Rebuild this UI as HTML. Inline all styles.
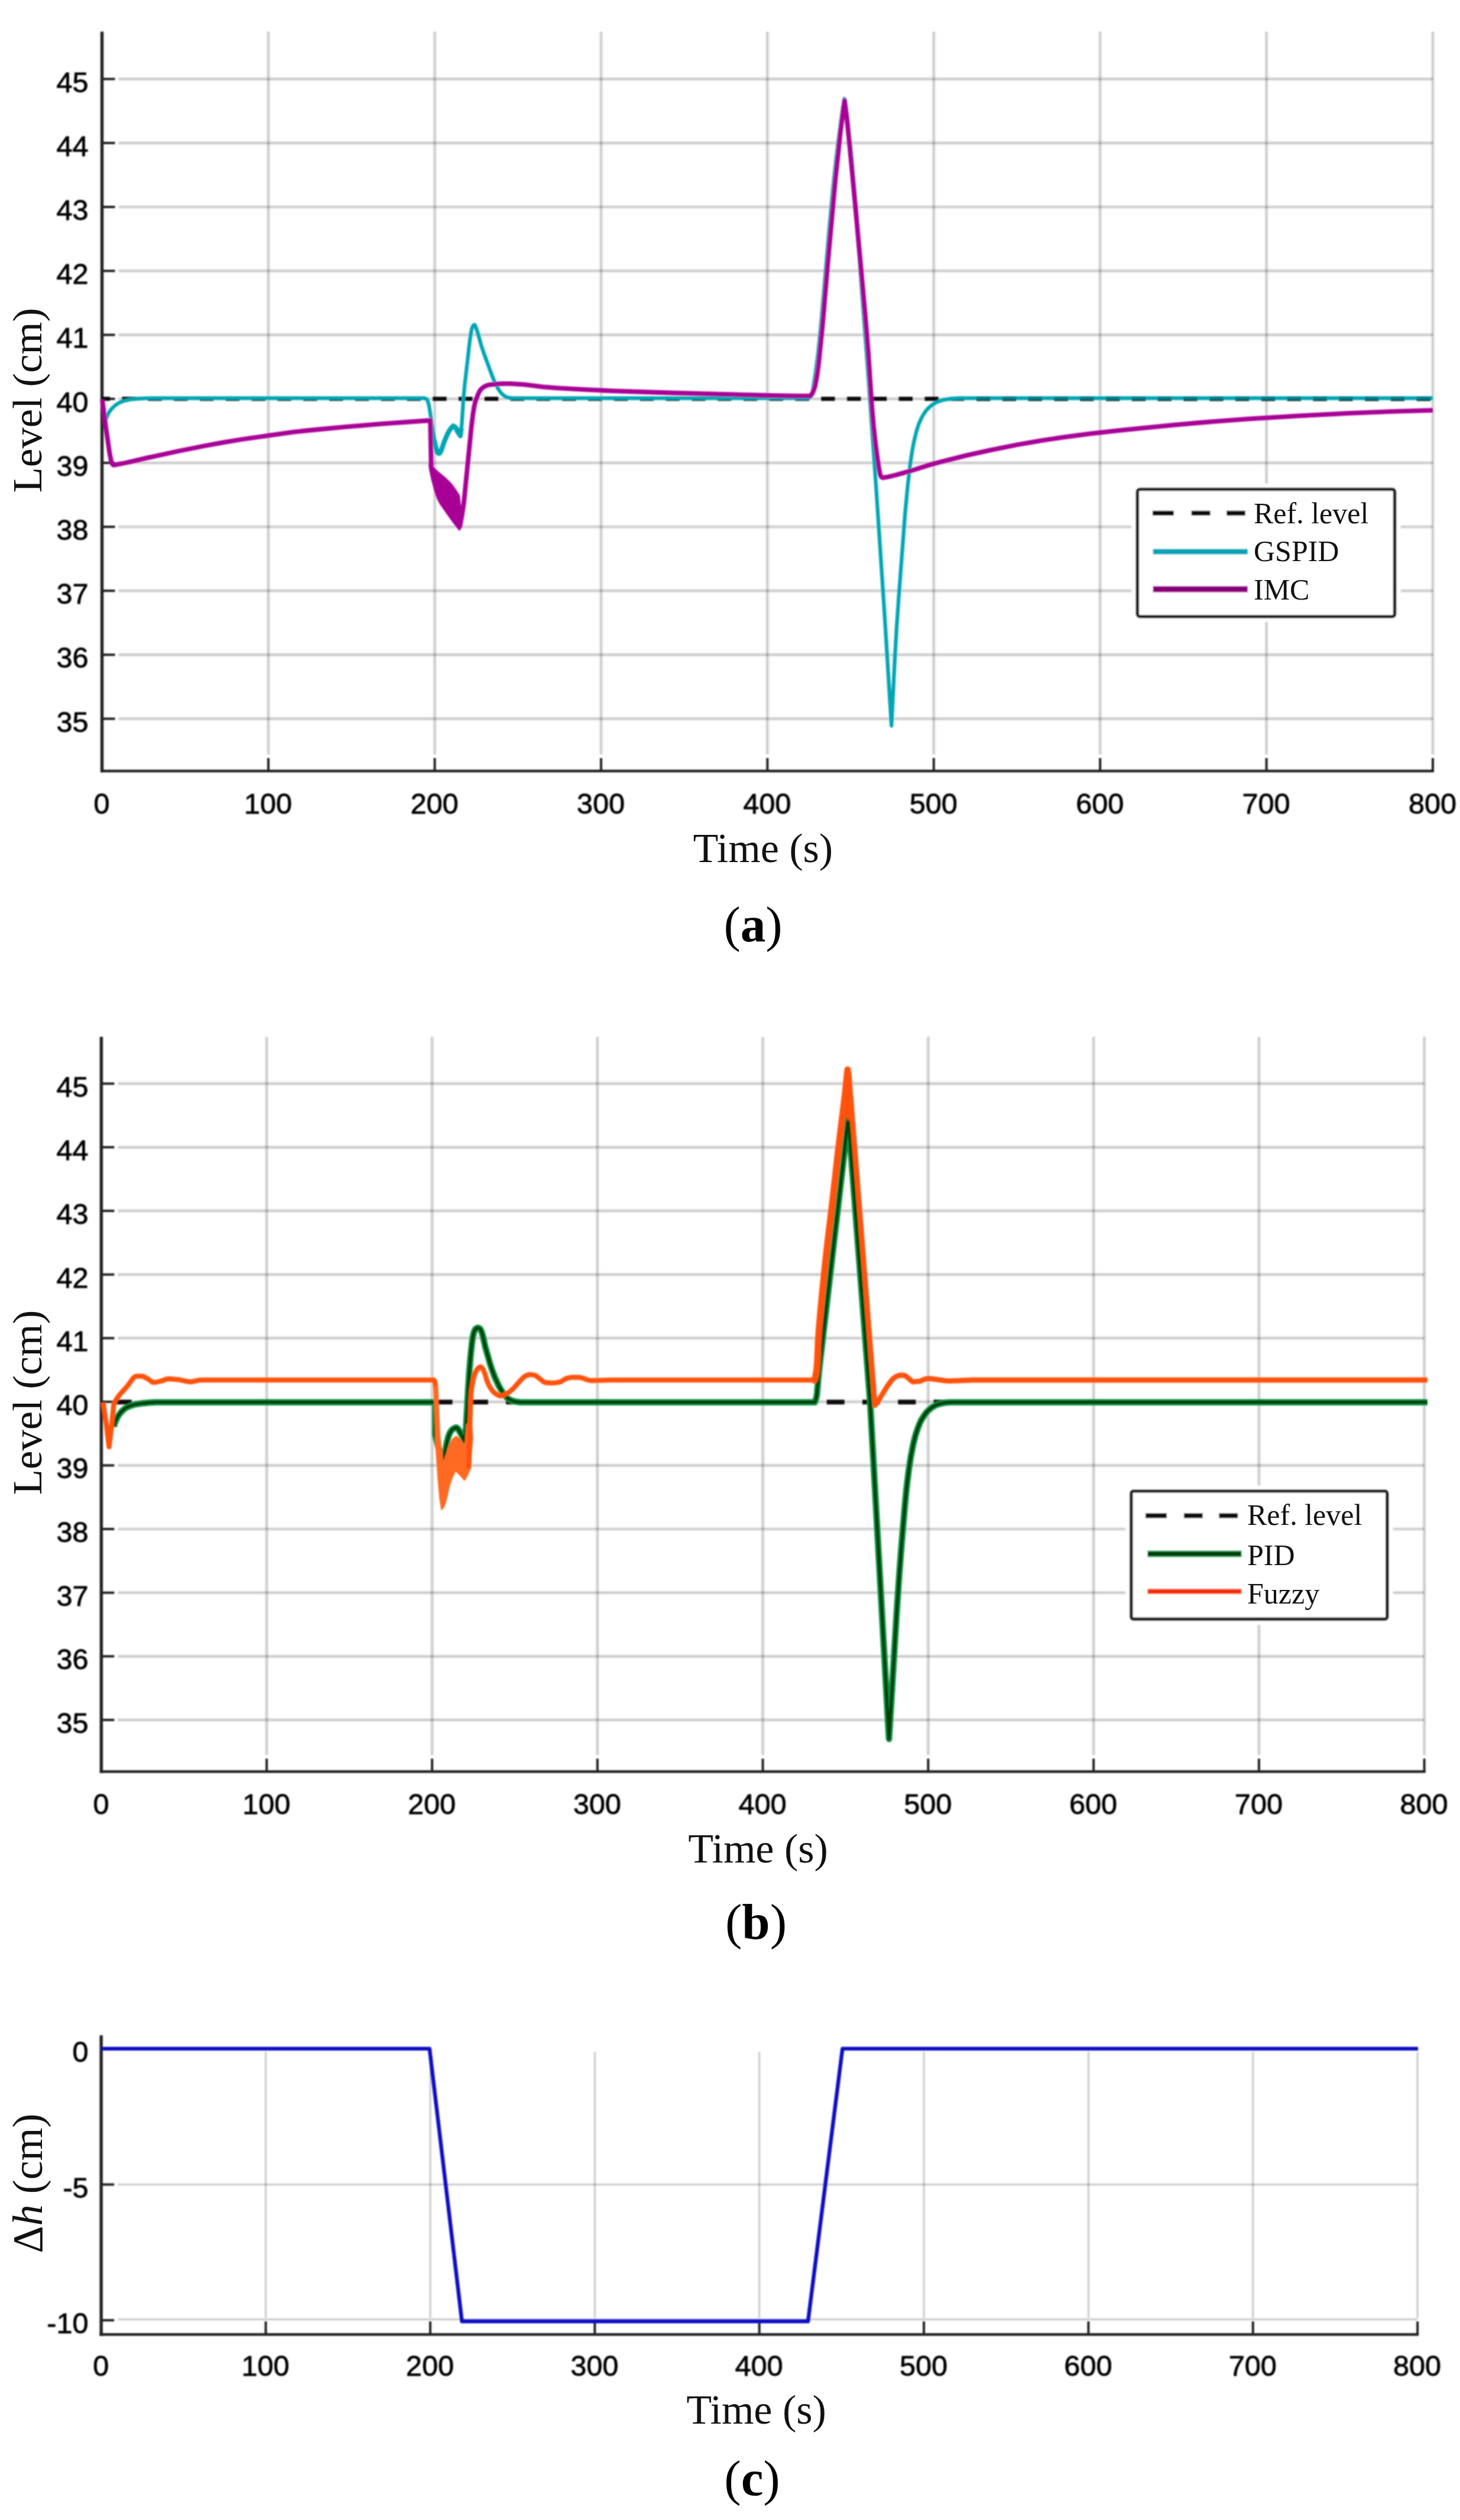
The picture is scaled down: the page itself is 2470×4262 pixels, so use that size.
<!DOCTYPE html>
<html lang="en"><head><meta charset="utf-8"><title>Level control responses</title>
<style>html,body{margin:0;padding:0;background:#fff}body{width:2470px;height:4262px;overflow:hidden}svg{display:block}</style>
</head><body>
<svg width="2470" height="4262" viewBox="0 0 2470 4262">
<rect width="2470" height="4262" fill="#fff"/>
<defs><filter id="b" x="-2%" y="-2%" width="104%" height="104%"><feGaussianBlur stdDeviation="0.9"/></filter></defs>
<g filter="url(#b)">
<g stroke="rgba(0,0,0,0.178)" stroke-width="3.2" fill="none">
<line x1="454.0" y1="53.4" x2="454.0" y2="1276.0"/>
<line x1="735.5" y1="53.4" x2="735.5" y2="1276.0"/>
<line x1="1016.9" y1="53.4" x2="1016.9" y2="1276.0"/>
<line x1="1298.3" y1="53.4" x2="1298.3" y2="1276.0"/>
<line x1="1579.7" y1="53.4" x2="1579.7" y2="1276.0"/>
<line x1="1861.2" y1="53.4" x2="1861.2" y2="1276.0"/>
<line x1="2142.6" y1="53.4" x2="2142.6" y2="1276.0"/>
<line x1="2424.0" y1="53.4" x2="2424.0" y2="1276.0"/>
<line x1="200.6" y1="1215.6" x2="2424.0" y2="1215.6"/>
<line x1="200.6" y1="1107.4" x2="2424.0" y2="1107.4"/>
<line x1="200.6" y1="999.2" x2="2424.0" y2="999.2"/>
<line x1="200.6" y1="891.0" x2="2424.0" y2="891.0"/>
<line x1="200.6" y1="782.8" x2="2424.0" y2="782.8"/>
<line x1="200.6" y1="674.6" x2="2424.0" y2="674.6"/>
<line x1="200.6" y1="566.4" x2="2424.0" y2="566.4"/>
<line x1="200.6" y1="458.2" x2="2424.0" y2="458.2"/>
<line x1="200.6" y1="350.0" x2="2424.0" y2="350.0"/>
<line x1="200.6" y1="241.8" x2="2424.0" y2="241.8"/>
<line x1="200.6" y1="133.6" x2="2424.0" y2="133.6"/>
</g>
<g stroke="rgba(0,0,0,0.05)" stroke-width="7.68" fill="none">
<line x1="454.0" y1="53.4" x2="454.0" y2="1276.0"/>
<line x1="735.5" y1="53.4" x2="735.5" y2="1276.0"/>
<line x1="1016.9" y1="53.4" x2="1016.9" y2="1276.0"/>
<line x1="1298.3" y1="53.4" x2="1298.3" y2="1276.0"/>
<line x1="1579.7" y1="53.4" x2="1579.7" y2="1276.0"/>
<line x1="1861.2" y1="53.4" x2="1861.2" y2="1276.0"/>
<line x1="2142.6" y1="53.4" x2="2142.6" y2="1276.0"/>
<line x1="2424.0" y1="53.4" x2="2424.0" y2="1276.0"/>
<line x1="200.6" y1="1215.6" x2="2424.0" y2="1215.6"/>
<line x1="200.6" y1="1107.4" x2="2424.0" y2="1107.4"/>
<line x1="200.6" y1="999.2" x2="2424.0" y2="999.2"/>
<line x1="200.6" y1="891.0" x2="2424.0" y2="891.0"/>
<line x1="200.6" y1="782.8" x2="2424.0" y2="782.8"/>
<line x1="200.6" y1="674.6" x2="2424.0" y2="674.6"/>
<line x1="200.6" y1="566.4" x2="2424.0" y2="566.4"/>
<line x1="200.6" y1="458.2" x2="2424.0" y2="458.2"/>
<line x1="200.6" y1="350.0" x2="2424.0" y2="350.0"/>
<line x1="200.6" y1="241.8" x2="2424.0" y2="241.8"/>
<line x1="200.6" y1="133.6" x2="2424.0" y2="133.6"/>
</g>
<g stroke="#222" fill="none" stroke-linecap="butt">
<path d="M172.6 53.4 V1306.2" stroke-width="5.4"/>
<path d="M169.9 1304.0 H2426.0" stroke-width="4.4"/>
<line x1="172.6" y1="1215.6" x2="194.6" y2="1215.6" stroke-width="4"/>
<line x1="172.6" y1="1107.4" x2="194.6" y2="1107.4" stroke-width="4"/>
<line x1="172.6" y1="999.2" x2="194.6" y2="999.2" stroke-width="4"/>
<line x1="172.6" y1="891.0" x2="194.6" y2="891.0" stroke-width="4"/>
<line x1="172.6" y1="782.8" x2="194.6" y2="782.8" stroke-width="4"/>
<line x1="172.6" y1="674.6" x2="194.6" y2="674.6" stroke-width="4"/>
<line x1="172.6" y1="566.4" x2="194.6" y2="566.4" stroke-width="4"/>
<line x1="172.6" y1="458.2" x2="194.6" y2="458.2" stroke-width="4"/>
<line x1="172.6" y1="350.0" x2="194.6" y2="350.0" stroke-width="4"/>
<line x1="172.6" y1="241.8" x2="194.6" y2="241.8" stroke-width="4"/>
<line x1="172.6" y1="133.6" x2="194.6" y2="133.6" stroke-width="4"/>
<line x1="454.0" y1="1305.0" x2="454.0" y2="1282.0" stroke-width="4"/>
<line x1="735.5" y1="1305.0" x2="735.5" y2="1282.0" stroke-width="4"/>
<line x1="1016.9" y1="1305.0" x2="1016.9" y2="1282.0" stroke-width="4"/>
<line x1="1298.3" y1="1305.0" x2="1298.3" y2="1282.0" stroke-width="4"/>
<line x1="1579.7" y1="1305.0" x2="1579.7" y2="1282.0" stroke-width="4"/>
<line x1="1861.2" y1="1305.0" x2="1861.2" y2="1282.0" stroke-width="4"/>
<line x1="2142.6" y1="1305.0" x2="2142.6" y2="1282.0" stroke-width="4"/>
<line x1="2424.0" y1="1305.0" x2="2424.0" y2="1282.0" stroke-width="4"/>
</g>
<g font-family="Liberation Sans, Arial, sans-serif" font-size="48.6" fill="#000" stroke="#000" stroke-width="0.8">
<text x="149.6" y="1237.6" text-anchor="end">35</text>
<text x="149.6" y="1129.4" text-anchor="end">36</text>
<text x="149.6" y="1021.2" text-anchor="end">37</text>
<text x="149.6" y="913.0" text-anchor="end">38</text>
<text x="149.6" y="804.8" text-anchor="end">39</text>
<text x="149.6" y="696.6" text-anchor="end">40</text>
<text x="149.6" y="588.4" text-anchor="end">41</text>
<text x="149.6" y="480.2" text-anchor="end">42</text>
<text x="149.6" y="372.0" text-anchor="end">43</text>
<text x="149.6" y="263.8" text-anchor="end">44</text>
<text x="149.6" y="155.6" text-anchor="end">45</text>
<text x="172.1" y="1376.0" text-anchor="middle">0</text>
<text x="453.5" y="1376.0" text-anchor="middle">100</text>
<text x="735.0" y="1376.0" text-anchor="middle">200</text>
<text x="1016.4" y="1376.0" text-anchor="middle">300</text>
<text x="1297.8" y="1376.0" text-anchor="middle">400</text>
<text x="1579.2" y="1376.0" text-anchor="middle">500</text>
<text x="1860.7" y="1376.0" text-anchor="middle">600</text>
<text x="2142.1" y="1376.0" text-anchor="middle">700</text>
<text x="2423.5" y="1376.0" text-anchor="middle">800</text>
</g>
<line x1="172.6" y1="674.6" x2="2424.0" y2="674.6" stroke="#111" stroke-width="7" stroke-dasharray="23.3 20.5" stroke-dashoffset="9.8"/>
<path d="M177.6 713 L182.1 701.8 L184.9 696.5 L189.9 690.2 L195.8 684.8 L200.9 681.6 L206.4 679.1 L210.2 677.8 L220 675.7 L230 674.5 L245.9 673.6 L260 673.3 L716 673.3 L718.2 673.5 L721.6 674.9 L722.9 676.6 L724.4 680.3 L725.4 684.2 L727.4 696.1 L731.8 725.9 L736.6 753.5 L739.2 763.4 L740 765 L741.6 766.5 L743.3 766.9 L744.6 765.6 L746.5 761.7 L751.8 746.5 L757.3 733.6 L761.2 726.6 L766.4 720.5 L768.6 721.2 L770.2 722.2 L771.3 723.8 L774 730 L778.8 737 L781.3 717.1 L783.7 679 L786 653 L794.7 577.1 L796.4 565.2 L798.4 555.1 L799.8 551.6 L801.4 549.9 L802.8 549.3 L803.9 550.5 L804.8 552.6 L807.6 560.6 L814.1 583.9 L819.2 599.1 L833.8 638.8 L837.7 648 L843.5 658.7 L847 663.7 L849.6 666.6 L854.4 670.3 L856.2 671.2 L861.9 672.8 L866 673.3 L1369 673.3 L1371.7 670.2 L1372.8 668.5 L1374.9 661.1 L1379.9 629.2 L1384 597.4 L1389.3 545.6 L1403.3 381.9 L1410.5 306.1 L1414.4 270.2 L1418.8 234.4 L1424.8 190.8 L1428.5 167 L1431.1 182.8 L1432.9 196.7 L1438.4 244.5 L1443.8 300.3 L1448.2 354.2 L1456.4 470 L1469.2 639.8 L1482.7 831.6 L1496.5 1039.4 L1508.2 1227.3 L1513.8 1115.1 L1516.8 1063 L1520.4 1011 L1531 871 L1535.9 819 L1539.6 787.1 L1543.1 763.3 L1546.5 745.4 L1550.3 729.8 L1554.6 716.6 L1559.7 705.4 L1562.8 700.1 L1566.1 695.3 L1569.9 690.9 L1572.9 688 L1579.5 683 L1586.4 679.5 L1596.1 676.3 L1609.9 674.1 L1622 673.3 L2424 673.3" fill="none" stroke="#00a5b4" stroke-width="6.3" stroke-linejoin="round" stroke-linecap="butt" />
<path d="M735 745 L736.5 753 L739 763 L739.8 764.7 L741.2 766.2 L743 767 L744.4 766 L746.4 762.1 L751.7 746.7 L757.3 733.7 L760.1 728.4 L763.6 723.5 L766.4 720.5 L768.6 721.2 L770.2 722.2 L771.3 723.8 L774 730 L778.8 737 L780.5 724" fill="none" stroke="#00a5b4" stroke-width="8.2" stroke-linejoin="round" stroke-linecap="butt" />
<line x1="1640" y1="674.8" x2="2424.0" y2="674.8" stroke="#002a30" stroke-opacity="0.33" stroke-width="8" stroke-dasharray="23.3 20.5" stroke-dashoffset="31.8"/>
<path d="M173 676 L178.7 720 L185.7 767.9 L188.6 781.9 L189.3 783.6 L190.4 785.2 L192 786.6 L211.6 783 L248.7 774.4 L301.5 763 L346.6 754 L380.1 747.9 L409.7 743 L477 733.3 L496.8 730.6 L520.7 728 L582.4 722.1 L648.2 716.7 L728 711 L729.5 790" fill="none" stroke="#a80096" stroke-width="7.8" stroke-linejoin="round" stroke-linecap="butt" />
<path d="M726.5 786 L729.5 787.7 L739.6 797.7 L753.8 809.5 L759.6 815 L763.7 819.6 L768.6 826.1 L776.5 838 L781 880 L777.4 896 L763.7 878.4 L746.2 853.4 L743.1 848.2 L740.5 842.8 L736.5 831.5 L730.7 809.8 L727 792Z" fill="#a80096" stroke="#a80096" stroke-width="3" stroke-linejoin="round" stroke-linecap="butt" />
<path d="M777.4 893 L781.6 871.4 L784.6 851.6 L797.5 722.1 L799.9 702.3 L802.1 688.4 L803.8 680.6 L805.6 674.9 L808.6 667.4 L811.3 661.7 L813.5 658.5 L816.2 656 L819.6 653.8 L823.4 651.9 L827.3 650.8 L841.1 649.3 L851.2 648.9 L863.3 648.9 L887.2 650.3 L919 654.3 L940.9 656.1 L984.9 658.7 L1036.9 661.1 L1136.9 664.5 L1305 669 L1347 669.7 L1371 669.5 L1373.6 666.3 L1375.5 662.9 L1378.8 653.4 L1382.2 635.7 L1385.1 613.8 L1392 545.8 L1400.2 447.8 L1413 305.8 L1421.3 227.9 L1426 190.1 L1428.8 170.2 L1432.7 200 L1437.6 247.8 L1446.4 341.5 L1463.4 528.9 L1469 596.7 L1474.5 680.7 L1477.9 720.6 L1481.6 754.4 L1486.2 788.1 L1488.9 802.1 L1490.3 805.7 L1491.6 807 L1493.5 808 L1495.5 807.7 L1503.3 806.3 L1513.1 804 L1540.1 796.6 L1574.5 785.8 L1595.7 780 L1636.5 769.9 L1677.5 760.9 L1720.7 752.3 L1760.1 745.3 L1799.7 739.4 L1845.3 733.4 L1897 727.6 L1984.6 718.9 L2050.4 713.1 L2110.3 708.6 L2196.1 703.4 L2282 698.9 L2356 695.8 L2424 693.8" fill="none" stroke="#a80096" stroke-width="7.8" stroke-linejoin="round" stroke-linecap="butt" />
<rect x="1915.3" y="819.0" width="453.3" height="232.3" fill="#fff"/>
<rect x="1924.3" y="827.5" width="435.3" height="215.3" rx="4" fill="#fff" stroke="#1e1e1e" stroke-width="5.6"/>
<line x1="1949.8" y1="867.9" x2="1985.9" y2="867.9" stroke="#111" stroke-width="8.4"/>
<line x1="2015.6" y1="867.9" x2="2047.5" y2="867.9" stroke="#111" stroke-width="8.4"/>
<line x1="2075.1" y1="867.9" x2="2106.9" y2="867.9" stroke="#111" stroke-width="8.4"/>
<line x1="1950.6" y1="932.9" x2="2111.0" y2="932.9" stroke="#00a3b8" stroke-width="9"/>
<line x1="1950.6" y1="996.6" x2="2111.0" y2="996.6" stroke="#a00090" stroke-width="10.5"/>
<line x1="1951.6" y1="996.6" x2="2110.0" y2="996.6" stroke="#7d0072" stroke-width="5"/>
<g stroke="rgba(0,0,0,0.178)" stroke-width="3.2" fill="none">
<line x1="451.2" y1="1753.4" x2="451.2" y2="2968.3"/>
<line x1="731.0" y1="1753.4" x2="731.0" y2="2968.3"/>
<line x1="1010.7" y1="1753.4" x2="1010.7" y2="2968.3"/>
<line x1="1290.5" y1="1753.4" x2="1290.5" y2="2968.3"/>
<line x1="1570.3" y1="1753.4" x2="1570.3" y2="2968.3"/>
<line x1="1850.1" y1="1753.4" x2="1850.1" y2="2968.3"/>
<line x1="2129.9" y1="1753.4" x2="2129.9" y2="2968.3"/>
<line x1="2409.6" y1="1753.4" x2="2409.6" y2="2968.3"/>
<line x1="199.4" y1="2908.9" x2="2409.6" y2="2908.9"/>
<line x1="199.4" y1="2801.3" x2="2409.6" y2="2801.3"/>
<line x1="199.4" y1="2693.7" x2="2409.6" y2="2693.7"/>
<line x1="199.4" y1="2586.0" x2="2409.6" y2="2586.0"/>
<line x1="199.4" y1="2478.4" x2="2409.6" y2="2478.4"/>
<line x1="199.4" y1="2370.8" x2="2409.6" y2="2370.8"/>
<line x1="199.4" y1="2263.2" x2="2409.6" y2="2263.2"/>
<line x1="199.4" y1="2155.6" x2="2409.6" y2="2155.6"/>
<line x1="199.4" y1="2047.9" x2="2409.6" y2="2047.9"/>
<line x1="199.4" y1="1940.3" x2="2409.6" y2="1940.3"/>
<line x1="199.4" y1="1832.7" x2="2409.6" y2="1832.7"/>
</g>
<g stroke="rgba(0,0,0,0.05)" stroke-width="7.68" fill="none">
<line x1="451.2" y1="1753.4" x2="451.2" y2="2968.3"/>
<line x1="731.0" y1="1753.4" x2="731.0" y2="2968.3"/>
<line x1="1010.7" y1="1753.4" x2="1010.7" y2="2968.3"/>
<line x1="1290.5" y1="1753.4" x2="1290.5" y2="2968.3"/>
<line x1="1570.3" y1="1753.4" x2="1570.3" y2="2968.3"/>
<line x1="1850.1" y1="1753.4" x2="1850.1" y2="2968.3"/>
<line x1="2129.9" y1="1753.4" x2="2129.9" y2="2968.3"/>
<line x1="2409.6" y1="1753.4" x2="2409.6" y2="2968.3"/>
<line x1="199.4" y1="2908.9" x2="2409.6" y2="2908.9"/>
<line x1="199.4" y1="2801.3" x2="2409.6" y2="2801.3"/>
<line x1="199.4" y1="2693.7" x2="2409.6" y2="2693.7"/>
<line x1="199.4" y1="2586.0" x2="2409.6" y2="2586.0"/>
<line x1="199.4" y1="2478.4" x2="2409.6" y2="2478.4"/>
<line x1="199.4" y1="2370.8" x2="2409.6" y2="2370.8"/>
<line x1="199.4" y1="2263.2" x2="2409.6" y2="2263.2"/>
<line x1="199.4" y1="2155.6" x2="2409.6" y2="2155.6"/>
<line x1="199.4" y1="2047.9" x2="2409.6" y2="2047.9"/>
<line x1="199.4" y1="1940.3" x2="2409.6" y2="1940.3"/>
<line x1="199.4" y1="1832.7" x2="2409.6" y2="1832.7"/>
</g>
<g stroke="#222" fill="none" stroke-linecap="butt">
<path d="M171.4 1753.4 V2998.5" stroke-width="5.4"/>
<path d="M168.7 2996.3 H2411.6" stroke-width="4.4"/>
<line x1="171.4" y1="2908.9" x2="193.4" y2="2908.9" stroke-width="4"/>
<line x1="171.4" y1="2801.3" x2="193.4" y2="2801.3" stroke-width="4"/>
<line x1="171.4" y1="2693.7" x2="193.4" y2="2693.7" stroke-width="4"/>
<line x1="171.4" y1="2586.0" x2="193.4" y2="2586.0" stroke-width="4"/>
<line x1="171.4" y1="2478.4" x2="193.4" y2="2478.4" stroke-width="4"/>
<line x1="171.4" y1="2370.8" x2="193.4" y2="2370.8" stroke-width="4"/>
<line x1="171.4" y1="2263.2" x2="193.4" y2="2263.2" stroke-width="4"/>
<line x1="171.4" y1="2155.6" x2="193.4" y2="2155.6" stroke-width="4"/>
<line x1="171.4" y1="2047.9" x2="193.4" y2="2047.9" stroke-width="4"/>
<line x1="171.4" y1="1940.3" x2="193.4" y2="1940.3" stroke-width="4"/>
<line x1="171.4" y1="1832.7" x2="193.4" y2="1832.7" stroke-width="4"/>
<line x1="451.2" y1="2997.3" x2="451.2" y2="2974.3" stroke-width="4"/>
<line x1="731.0" y1="2997.3" x2="731.0" y2="2974.3" stroke-width="4"/>
<line x1="1010.7" y1="2997.3" x2="1010.7" y2="2974.3" stroke-width="4"/>
<line x1="1290.5" y1="2997.3" x2="1290.5" y2="2974.3" stroke-width="4"/>
<line x1="1570.3" y1="2997.3" x2="1570.3" y2="2974.3" stroke-width="4"/>
<line x1="1850.1" y1="2997.3" x2="1850.1" y2="2974.3" stroke-width="4"/>
<line x1="2129.9" y1="2997.3" x2="2129.9" y2="2974.3" stroke-width="4"/>
<line x1="2409.6" y1="2997.3" x2="2409.6" y2="2974.3" stroke-width="4"/>
</g>
<g font-family="Liberation Sans, Arial, sans-serif" font-size="48.6" fill="#000" stroke="#000" stroke-width="0.8">
<text x="149.6" y="2930.9" text-anchor="end">35</text>
<text x="149.6" y="2823.3" text-anchor="end">36</text>
<text x="149.6" y="2715.7" text-anchor="end">37</text>
<text x="149.6" y="2608.0" text-anchor="end">38</text>
<text x="149.6" y="2500.4" text-anchor="end">39</text>
<text x="149.6" y="2392.8" text-anchor="end">40</text>
<text x="149.6" y="2285.2" text-anchor="end">41</text>
<text x="149.6" y="2177.6" text-anchor="end">42</text>
<text x="149.6" y="2069.9" text-anchor="end">43</text>
<text x="149.6" y="1962.3" text-anchor="end">44</text>
<text x="149.6" y="1854.7" text-anchor="end">45</text>
<text x="170.9" y="3068.0" text-anchor="middle">0</text>
<text x="450.7" y="3068.0" text-anchor="middle">100</text>
<text x="730.5" y="3068.0" text-anchor="middle">200</text>
<text x="1010.2" y="3068.0" text-anchor="middle">300</text>
<text x="1290.0" y="3068.0" text-anchor="middle">400</text>
<text x="1569.8" y="3068.0" text-anchor="middle">500</text>
<text x="1849.6" y="3068.0" text-anchor="middle">600</text>
<text x="2129.4" y="3068.0" text-anchor="middle">700</text>
<text x="2409.1" y="3068.0" text-anchor="middle">800</text>
</g>
<line x1="171.4" y1="2371.2" x2="2409.6" y2="2371.2" stroke="#111" stroke-width="8" stroke-dasharray="30 30.3" stroke-dashoffset="39"/>
<path d="M192.5 2413 L193.5 2409 L195.6 2403.3 L198.1 2397.9 L200.1 2394.3 L203.8 2389.4 L206.5 2386.5 L209.5 2383.7 L212.8 2381.2 L220 2377.8 L227.8 2375.4 L239.8 2373.5 L253.9 2372.2 L264 2371.6 L736.3 2371.6 L736.3 2426.7 L740.1 2442.3 L748.6 2473.3 L752.6 2457.6 L756.1 2439.4 L758 2431.6 L759.9 2426.1 L761.7 2422.3 L764.1 2418.8 L765.4 2417.4 L769 2415.3 L771 2414.5 L772.6 2414.5 L773.9 2415.3 L776.4 2418.9 L781.5 2428.4 L785.6 2437.7 L787.6 2423.8 L788.5 2413.9 L791.9 2352 L793.7 2324 L795.9 2296 L798.1 2274.2 L800 2260.3 L802 2252.6 L803.7 2248.8 L805 2247.3 L806.6 2246.2 L808.6 2245.6 L810.5 2246.2 L812.1 2247.4 L813.2 2248.9 L814.9 2252.7 L817.1 2260.3 L821 2278 L829.2 2306.9 L832.3 2316.4 L836.5 2327.7 L843.1 2342.4 L846.9 2349.3 L851.3 2356.2 L855.1 2361.1 L857.9 2364 L860.9 2366.3 L864.3 2368.1 L868.2 2369.5 L872 2370.5 L880 2371.6 L1378.4 2371.6 L1381.1 2364 L1382.3 2356.2 L1384.3 2332.1 L1386.6 2310.2 L1426.5 1965.7 L1434.8 1888 L1472 2370 L1504 2941 L1517 2727.3 L1521.2 2665.4 L1525.3 2611.5 L1530.9 2545.7 L1533.8 2515.8 L1537.2 2488 L1540.8 2464.2 L1545 2442.6 L1548.9 2427 L1553.4 2413.6 L1556.4 2406.3 L1559 2401 L1564.5 2392.4 L1568.3 2387.7 L1571.1 2384.9 L1575.7 2381.1 L1579.1 2378.7 L1584.5 2375.9 L1591.9 2373.8 L1599.7 2372.2 L1608 2371.6 L2414.8 2371.6" fill="none" stroke="#0d8f42" stroke-width="10.8" stroke-linejoin="round" stroke-linecap="butt" />
<path d="M192.5 2413 L193.5 2409 L195.6 2403.3 L198.1 2397.9 L200.1 2394.3 L203.8 2389.4 L206.5 2386.5 L209.5 2383.7 L212.8 2381.2 L220 2377.8 L227.8 2375.4 L239.8 2373.5 L253.9 2372.2 L264 2371.6 L736.3 2371.6 L736.3 2426.7 L740.1 2442.3 L748.6 2473.3 L752.6 2457.6 L756.1 2439.4 L758 2431.6 L759.9 2426.1 L761.7 2422.3 L764.1 2418.8 L765.4 2417.4 L769 2415.3 L771 2414.5 L772.6 2414.5 L773.9 2415.3 L776.4 2418.9 L781.5 2428.4 L785.6 2437.7 L787.6 2423.8 L788.5 2413.9 L791.9 2352 L793.7 2324 L795.9 2296 L798.1 2274.2 L800 2260.3 L802 2252.6 L803.7 2248.8 L805 2247.3 L806.6 2246.2 L808.6 2245.6 L810.5 2246.2 L812.1 2247.4 L813.2 2248.9 L814.9 2252.7 L817.1 2260.3 L821 2278 L829.2 2306.9 L832.3 2316.4 L836.5 2327.7 L843.1 2342.4 L846.9 2349.3 L851.3 2356.2 L855.1 2361.1 L857.9 2364 L860.9 2366.3 L864.3 2368.1 L868.2 2369.5 L872 2370.5 L880 2371.6 L1378.4 2371.6 L1381.1 2364 L1382.3 2356.2 L1384.3 2332.1 L1386.6 2310.2 L1426.5 1965.7 L1434.8 1888 L1472 2370 L1504 2941 L1517 2727.3 L1521.2 2665.4 L1525.3 2611.5 L1530.9 2545.7 L1533.8 2515.8 L1537.2 2488 L1540.8 2464.2 L1545 2442.6 L1548.9 2427 L1553.4 2413.6 L1556.4 2406.3 L1559 2401 L1564.5 2392.4 L1568.3 2387.7 L1571.1 2384.9 L1575.7 2381.1 L1579.1 2378.7 L1584.5 2375.9 L1591.9 2373.8 L1599.7 2372.2 L1608 2371.6 L2414.8 2371.6" fill="none" stroke="#003c00" stroke-width="5" stroke-linejoin="round" stroke-linecap="butt" />
<path d="M174.5 2372 L180 2410 L184.5 2447 L189 2410 L192.5 2374 L196.6 2367 L201.1 2360.5 L206.3 2354.4 L215.8 2344 L224.9 2331.3 L227.8 2328.7 L229.3 2327.9 L230.9 2327.5 L240.7 2327.5 L242.6 2328 L251.6 2333 L256.7 2336.9 L258.4 2337.7 L260.2 2338 L264 2337.6 L272.1 2336 L281.6 2332.5 L285.5 2332 L301.5 2333.2 L315.3 2336.2 L321.2 2337 L325.1 2336.8 L337 2334.2 L341 2334 L734 2334 L735.9 2337.7 L736.4 2339.6 L737.3 2349.4 L739 2396.3 L742 2451" fill="none" stroke="#ff520f" stroke-width="8.4" stroke-linejoin="round" stroke-linecap="butt" />
<path d="M735 2345 L737.7 2446 L741.8 2506 L744.5 2535 L747.3 2552.7 L750.5 2548 L754 2539 L759.6 2514 L765 2498 L770.5 2487 L778 2494 L785.6 2503 L790 2496 L795 2484 L799.3 2432 L797 2400 L789.7 2410 L787 2446 L779 2436 L772 2429.5 L766 2434 L759.6 2446 L750 2476 L744.5 2437.7 L741 2400 L739 2345Z" fill="#ff6a22" stroke="#ff6a22" stroke-width="2.5" stroke-linejoin="round" stroke-linecap="butt" />
<path d="M793 2484 L795.9 2377.6 L796.7 2359.6 L797.6 2349.6 L800 2335.7 L802 2328 L804 2322.1 L805.7 2318.4 L807.9 2315.2 L811.1 2312.3 L812.8 2311.6 L814.2 2312 L815.5 2313.4 L817.8 2317.4 L820.3 2323.1 L823.7 2334.8 L825.1 2338.5 L827.8 2344 L831 2349.4 L834.7 2354.1 L837.6 2356.5 L843 2359.9 L846.8 2361 L848.7 2360.8 L852.4 2359.3 L857.9 2356.5 L863 2353.2 L868.8 2348 L879.5 2335.7 L886.7 2328.6 L890 2326.5 L893.8 2325.2 L895.8 2324.8 L899.9 2325 L905.7 2326.2 L912.3 2331 L918.9 2336.4 L922.3 2338.2 L924.1 2338.5 L932.1 2339 L938.2 2338.9 L946.1 2337.7 L949.7 2336.3 L955 2332.9 L958.6 2331.1 L964.4 2329.8 L968.4 2329.5 L978.5 2329.5 L982.4 2329.9 L986.3 2331 L994 2333.8 L999.9 2335 L1033.9 2334 L1376 2334" fill="none" stroke="#ff520f" stroke-width="8.4" stroke-linejoin="round" stroke-linecap="butt" />
<path d="M1378 2334.5 L1380.4 2324.7 L1381.6 2316.9 L1382.8 2300.9 L1384.4 2264.9 L1386.2 2240.9 L1389.7 2201 L1395.9 2139.2 L1400.6 2097.4 L1407.8 2037.8 L1419 1938.3 L1429.5 1852.8 L1434 1809" fill="none" stroke="#ff520f" stroke-width="11.2" stroke-linejoin="round" stroke-linecap="round" />
<path d="M1427.5 1878 L1433.8 1806 L1442 1880 L1435 1896Z" fill="#ff520f" stroke="#ff520f" stroke-width="1" stroke-linejoin="round" stroke-linecap="butt" />
<path d="M1434 1809 L1436 1815 L1480.2 2377 L1485 2370.5 L1501.2 2344.3 L1507.2 2335.9 L1511.2 2331.6 L1514.2 2329.3 L1517.5 2327.4 L1521.4 2326 L1529.4 2326 L1531.2 2326.6 L1537.9 2331.7 L1542.6 2336.1 L1544.3 2336.9 L1546.1 2337 L1556.2 2335.8 L1565.8 2332.2 L1569.7 2331.5 L1575.6 2331.8 L1599.7 2335.2 L1605.7 2335.6 L1645.9 2334 L2414.8 2334" fill="none" stroke="#ff520f" stroke-width="8.8" stroke-linejoin="round" stroke-linecap="butt" />
<rect x="1904.7" y="2513.3" width="451.2" height="233.6" fill="#fff"/>
<rect x="1913.7" y="2521.8" width="433.2" height="216.6" rx="4" fill="#fff" stroke="#1e1e1e" stroke-width="5.6"/>
<line x1="1937.9" y1="2563.4" x2="1974.0" y2="2563.4" stroke="#111" stroke-width="8.4"/>
<line x1="2002.9" y1="2563.4" x2="2034.7" y2="2563.4" stroke="#111" stroke-width="8.4"/>
<line x1="2062.3" y1="2563.4" x2="2094.2" y2="2563.4" stroke="#111" stroke-width="8.4"/>
<line x1="1941.3" y1="2628.0" x2="2100.5" y2="2628.0" stroke="#0d8f42" stroke-width="11"/>
<line x1="1942.3" y1="2628.0" x2="2099.5" y2="2628.0" stroke="#003000" stroke-width="5.5"/>
<line x1="1941.3" y1="2691.6" x2="2100.5" y2="2691.6" stroke="#ff4a10" stroke-width="9"/>
<line x1="1942.3" y1="2691.6" x2="2099.5" y2="2691.6" stroke="#f02800" stroke-width="3.5"/>
<g stroke="rgba(0,0,0,0.19)" stroke-width="2.2" fill="none">
<line x1="449.6" y1="3470.0" x2="449.6" y2="3920.2"/>
<line x1="727.9" y1="3470.0" x2="727.9" y2="3920.2"/>
<line x1="1006.3" y1="3470.0" x2="1006.3" y2="3920.2"/>
<line x1="1284.6" y1="3470.0" x2="1284.6" y2="3920.2"/>
<line x1="1563.0" y1="3470.0" x2="1563.0" y2="3920.2"/>
<line x1="1841.4" y1="3470.0" x2="1841.4" y2="3920.2"/>
<line x1="2119.7" y1="3470.0" x2="2119.7" y2="3920.2"/>
<line x1="2398.1" y1="3470.0" x2="2398.1" y2="3920.2"/>
<line x1="199.2" y1="3694.6" x2="2398.1" y2="3694.6"/>
<line x1="199.2" y1="3922.7" x2="2398.1" y2="3922.7"/>
</g>
<g stroke="rgba(0,0,0,0.05)" stroke-width="5.28" fill="none">
<line x1="449.6" y1="3470.0" x2="449.6" y2="3920.2"/>
<line x1="727.9" y1="3470.0" x2="727.9" y2="3920.2"/>
<line x1="1006.3" y1="3470.0" x2="1006.3" y2="3920.2"/>
<line x1="1284.6" y1="3470.0" x2="1284.6" y2="3920.2"/>
<line x1="1563.0" y1="3470.0" x2="1563.0" y2="3920.2"/>
<line x1="1841.4" y1="3470.0" x2="1841.4" y2="3920.2"/>
<line x1="2119.7" y1="3470.0" x2="2119.7" y2="3920.2"/>
<line x1="2398.1" y1="3470.0" x2="2398.1" y2="3920.2"/>
<line x1="199.2" y1="3694.6" x2="2398.1" y2="3694.6"/>
<line x1="199.2" y1="3922.7" x2="2398.1" y2="3922.7"/>
</g>
<g stroke="#222" fill="none" stroke-linecap="butt">
<path d="M171.2 3442.3 V3950.4" stroke-width="5.4"/>
<path d="M168.5 3948.2 H2400.1" stroke-width="4.4"/>
<line x1="171.2" y1="3464.9" x2="193.2" y2="3464.9" stroke-width="4"/>
<line x1="171.2" y1="3694.6" x2="193.2" y2="3694.6" stroke-width="4"/>
<line x1="171.2" y1="3924.2" x2="193.2" y2="3924.2" stroke-width="4"/>
<line x1="449.6" y1="3949.2" x2="449.6" y2="3926.2" stroke-width="4"/>
<line x1="727.9" y1="3949.2" x2="727.9" y2="3926.2" stroke-width="4"/>
<line x1="1006.3" y1="3949.2" x2="1006.3" y2="3926.2" stroke-width="4"/>
<line x1="1284.6" y1="3949.2" x2="1284.6" y2="3926.2" stroke-width="4"/>
<line x1="1563.0" y1="3949.2" x2="1563.0" y2="3926.2" stroke-width="4"/>
<line x1="1841.4" y1="3949.2" x2="1841.4" y2="3926.2" stroke-width="4"/>
<line x1="2119.7" y1="3949.2" x2="2119.7" y2="3926.2" stroke-width="4"/>
<line x1="2398.1" y1="3949.2" x2="2398.1" y2="3926.2" stroke-width="4"/>
</g>
<g font-family="Liberation Sans, Arial, sans-serif" font-size="48.6" fill="#000" stroke="#000" stroke-width="0.8">
<text x="149.6" y="3486.9" text-anchor="end">0</text>
<text x="149.6" y="3716.6" text-anchor="end">-5</text>
<text x="149.6" y="3946.2" text-anchor="end">-10</text>
<text x="170.7" y="4018.0" text-anchor="middle">0</text>
<text x="449.1" y="4018.0" text-anchor="middle">100</text>
<text x="727.4" y="4018.0" text-anchor="middle">200</text>
<text x="1005.8" y="4018.0" text-anchor="middle">300</text>
<text x="1284.1" y="4018.0" text-anchor="middle">400</text>
<text x="1562.5" y="4018.0" text-anchor="middle">500</text>
<text x="1840.9" y="4018.0" text-anchor="middle">600</text>
<text x="2119.2" y="4018.0" text-anchor="middle">700</text>
<text x="2397.6" y="4018.0" text-anchor="middle">800</text>
</g>
<path d="M171.2 3464.9 L726.7 3464.9 L781.5 3926 L1367 3926 L1425.3 3464.9 L2399 3464.9" fill="none" stroke="#0a0ac4" stroke-width="6.4" stroke-linejoin="round" stroke-linecap="butt" />
</g>
<g font-family="Liberation Serif, Times New Roman, serif" font-size="50" fill="#111">
<text x="2121.0" y="884.9">Ref. level</text>
<text x="2121.0" y="948.6">GSPID</text>
<text x="2121.0" y="1014.4">IMC</text>
</g>
<text font-family="Liberation Serif, Times New Roman, serif" font-size="70" fill="#111" text-anchor="middle" x="1290.8" y="1458">Time (s)</text>
<text font-family="Liberation Serif, Times New Roman, serif" font-size="70.8" fill="#111" text-anchor="middle" transform="translate(70 677) rotate(-90)">Level (cm)</text>
<text font-family="Liberation Serif, Times New Roman, serif" font-size="85" fill="#000" text-anchor="middle" x="1274.0" y="1592.0">(<tspan font-weight="bold">a</tspan>)</text>
<g font-family="Liberation Serif, Times New Roman, serif" font-size="50" fill="#111">
<text x="2110.0" y="2579.0">Ref. level</text>
<text x="2110.0" y="2647.0">PID</text>
<text x="2110.0" y="2712.0">Fuzzy</text>
</g>
<text font-family="Liberation Serif, Times New Roman, serif" font-size="70" fill="#111" text-anchor="middle" x="1282.5" y="3149.5">Time (s)</text>
<text font-family="Liberation Serif, Times New Roman, serif" font-size="70.8" fill="#111" text-anchor="middle" transform="translate(69.6 2372) rotate(-90)">Level (cm)</text>
<text font-family="Liberation Serif, Times New Roman, serif" font-size="85" fill="#000" text-anchor="middle" x="1279.0" y="3279.0">(<tspan font-weight="bold">b</tspan>)</text>
<text font-family="Liberation Serif, Times New Roman, serif" font-size="70" fill="#111" text-anchor="middle" x="1279.5" y="4099">Time (s)</text>
<text font-family="Liberation Serif, Times New Roman, serif" font-size="72" fill="#111" text-anchor="middle" transform="translate(70.5 3692.7) rotate(-90)">Δ<tspan font-style="italic">h</tspan> (cm)</text>
<text font-family="Liberation Serif, Times New Roman, serif" font-size="85" fill="#000" text-anchor="middle" x="1272.5" y="4219.7">(<tspan font-weight="bold">c</tspan>)</text>
</svg>
</body></html>
